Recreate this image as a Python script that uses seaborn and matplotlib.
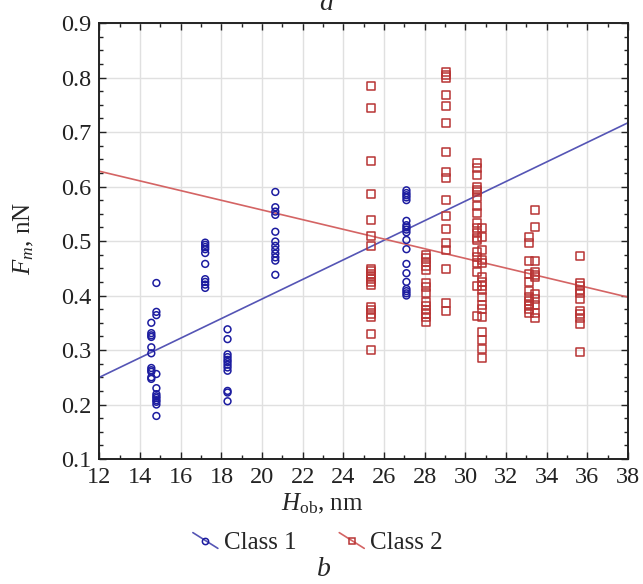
import numpy as np
import pandas as pd
import seaborn as sns
import matplotlib.pyplot as plt
from matplotlib.lines import Line2D
from matplotlib.legend_handler import HandlerLine2D
from matplotlib.ticker import MultipleLocator

# class 1 (blue circles), columns of points
c1_x = ([14.55] * 11 + [14.8] * 12 + [17.2] * 10 + [18.3] * 12
        + [20.65] * 12 + [27.1] * 19)
c1_y = [0.350, 0.331, 0.327, 0.324, 0.305, 0.294, 0.267, 0.263, 0.260, 0.250, 0.247,
        0.423, 0.370, 0.364, 0.256, 0.230, 0.219, 0.215, 0.212, 0.208, 0.205, 0.200, 0.179,
        0.497, 0.493, 0.489, 0.485, 0.478, 0.458, 0.430, 0.425, 0.420, 0.414,
        0.338, 0.320, 0.292, 0.287, 0.282, 0.278, 0.273, 0.268, 0.262, 0.225, 0.222, 0.206,
        0.590, 0.562, 0.554, 0.548, 0.517, 0.499, 0.491, 0.484, 0.477, 0.470, 0.464, 0.438,
        0.593, 0.588, 0.584, 0.580, 0.575, 0.537, 0.529, 0.525, 0.521, 0.516, 0.502,
        0.485, 0.458, 0.441, 0.425, 0.412, 0.408, 0.404, 0.400]

# class 2 (red squares)
c2_x = ([25.35] * 20 + [28.05] * 14 + [29.05] * 17 + [30.57] * 20 + [30.83] * 17
        + [33.13] * 12 + [33.42] * 11 + [35.63] * 11)
c2_y = [0.784, 0.744, 0.647, 0.586, 0.539, 0.509, 0.491, 0.449, 0.445, 0.440,
        0.435, 0.430, 0.425, 0.420, 0.379, 0.373, 0.367, 0.360, 0.329, 0.300,
        0.474, 0.468, 0.462, 0.455, 0.447, 0.423, 0.415, 0.405, 0.388, 0.381, 0.374, 0.367, 0.360, 0.352,
        0.810, 0.805, 0.800, 0.768, 0.748, 0.716, 0.663, 0.627, 0.616, 0.575, 0.546,
        0.522, 0.496, 0.483, 0.449, 0.386, 0.372,
        0.643, 0.634, 0.621, 0.599, 0.594, 0.590, 0.580, 0.564, 0.551, 0.533,
        0.524, 0.515, 0.506, 0.502, 0.480, 0.470, 0.460, 0.443, 0.417, 0.362,
        0.524, 0.507, 0.483, 0.465, 0.460, 0.434, 0.425, 0.418, 0.410, 0.397,
        0.382, 0.375, 0.361, 0.333, 0.318, 0.302, 0.285,
        0.507, 0.496, 0.463, 0.439, 0.425, 0.408, 0.397, 0.390, 0.385, 0.381, 0.375, 0.368,
        0.557, 0.526, 0.463, 0.443, 0.438, 0.434, 0.403, 0.394, 0.383, 0.368, 0.359,
        0.473, 0.423, 0.418, 0.410, 0.405, 0.394, 0.372, 0.366, 0.358, 0.347, 0.296]

# linear fits as drawn
fit_x = [12, 38]
c1_fit = [0.250, 0.717]
c2_fit = [0.628, 0.397]

blue_pt, blue_ln = "#1c1ca0", "#5555b5"
red_pt, red_ln = "#b83434", "#d46464"

sns.set_theme(style="ticks")
plt.rcParams['font.family'] = ['Liberation Serif', 'DejaVu Serif']
plt.rcParams['mathtext.fontset'] = 'custom'
plt.rcParams['mathtext.rm'] = 'Liberation Serif'
plt.rcParams['mathtext.it'] = 'Liberation Serif:italic'

fig = plt.figure(figsize=(6.43, 5.84), dpi=100)
ax = fig.add_axes([0.1547, 0.214, 0.822, 0.7466])

ax.grid(True, which='major', color='#e0e0e0', lw=1.0, zorder=0)
ax.set_axisbelow(True)

sns.lineplot(x=fit_x, y=c1_fit, ax=ax, color=blue_ln, lw=1.2, zorder=2)
sns.lineplot(x=fit_x, y=c2_fit, ax=ax, color=red_ln, lw=1.2, zorder=2)

ax.scatter(c1_x, c1_y, marker='o', s=24, facecolors='none', edgecolors=blue_pt,
           linewidths=1.1, zorder=3)
ax.scatter(c2_x, c2_y, marker='s', s=34, facecolors='none', edgecolors=red_pt,
           linewidths=1.1, zorder=3)

ax.set_xlim(12, 38)
ax.set_ylim(0.1, 0.9)
ax.xaxis.set_major_locator(MultipleLocator(2))
ax.xaxis.set_minor_locator(MultipleLocator(1))
ax.yaxis.set_major_locator(MultipleLocator(0.1))
ax.yaxis.set_minor_locator(MultipleLocator(0.025))
ax.set_yticklabels([f"{v:.1f}" for v in ax.get_yticks()])
ax.tick_params(which='both', direction='in', top=True, right=True, width=1.0,
               labelsize=17.5, colors='#222222')
ax.tick_params(which='major', length=5, pad=6)
ax.tick_params(which='minor', length=3)
for s in ax.spines.values():
    s.set_linewidth(1.4)
    s.set_color('#222222')

fig.text(322 / 643, 1 - 504 / 584, r"$H_{\mathrm{ob}}$, nm", ha='center', va='center', fontsize=18)
fig.text(24 / 643, 1 - 238 / 584, r"$F_m$, nN", ha='center', va='center', rotation=90, fontsize=18)
fig.text(326 / 643, 1 - 10 / 584, "a", ha='center', va='baseline', fontsize=20, style='italic')
fig.text(324 / 643, 1 - 570 / 584, "b", ha='center', va='center', fontsize=20, style='italic')


class DiagHandler(HandlerLine2D):
    def create_artists(self, legend, orig_handle, xdescent, ydescent, width, height, fontsize, trans):
        ln = Line2D([0, width], [height * 0.95, height * 0.05], color=orig_handle.get_color(),
                    lw=1.2, transform=trans)
        mk = Line2D([width / 2], [height / 2], marker=orig_handle.get_marker(), ls='none',
                    markersize=orig_handle.get_markersize(), mfc='none',
                    mec=orig_handle.get_markeredgecolor(), mew=1.1, transform=trans)
        return [ln, mk]


h1 = Line2D([], [], color=blue_ln, marker='o', markersize=4.5, mec=blue_pt)
h2 = Line2D([], [], color=red_ln, marker='s', markersize=5, mec=red_pt)
fig.legend([h1, h2], ["Class 1", "Class 2"], loc='center', bbox_to_anchor=(318 / 643, 1 - 543 / 584),
           ncol=2, frameon=False, fontsize=18, handlelength=1.0, handletextpad=0.25,
           columnspacing=1.7, handler_map={Line2D: DiagHandler()})

fig.savefig("out.png", dpi=100)
